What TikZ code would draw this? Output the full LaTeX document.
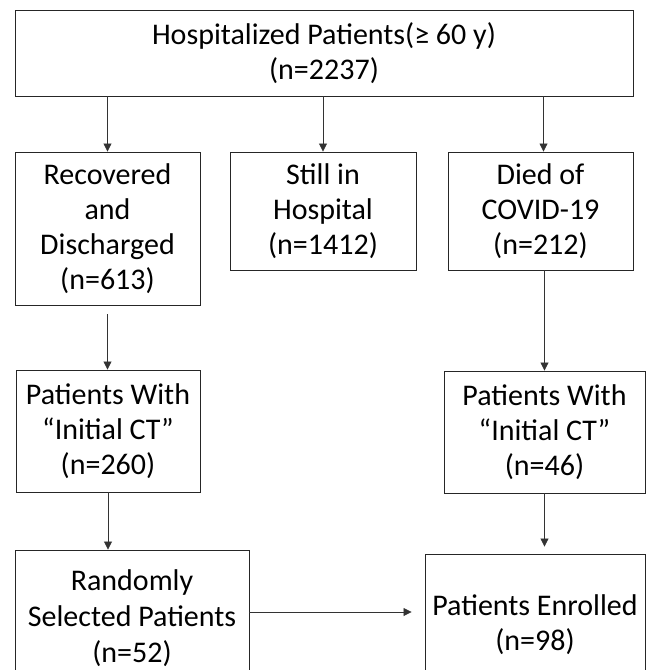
\documentclass[tikz,border=0pt]{standalone}
\usepackage{fontspec}
\setmainfont{Carlito}
\usetikzlibrary{arrows.meta}
\begin{document}
\begin{tikzpicture}[x=1pt,y=-1pt,
    box/.style={draw=black!85,line width=0.9pt,align=center,inner sep=0pt,
      font=\fontsize{30}{35}\selectfont,text=black},
    flow/.style={draw=black!80,line width=0.8pt,-{Triangle[width=8pt,length=8pt]}}]
      \useasboundingbox (0,0) rectangle (650,670);
      \draw
        (324,53) node[box,minimum width=618,minimum height=86] (hosp){Hospitalized Patients(≥ 60 y)\\(n=2237)}
        (107.5,228.5) node[box,minimum width=185,minimum height=153] (recov){Recovered\\and\\Discharged\\(n=613)}
        (323,211) node[box,minimum width=186,minimum height=118] (still){Still in\\Hospital\\(n=1412)}
        (540.5,211) node[box,minimum width=185,minimum height=118] (died){Died of\\COVID-19\\(n=212)}
        (108,431) node[box,minimum width=184,minimum height=122] (ctrecov){Patients With\\“Initial CT”\\(n=260)}
        (544.5,432) node[box,minimum width=201,minimum height=122] (ctdied){Patients With\\“Initial CT”\\(n=46)}
        (132,618) node[box,minimum width=234,minimum height=136,font=\fontsize{30}{36}\selectfont] (rand){Randomly\\Selected Patients\\(n=52)}
        (535,625) node[box,minimum width=220,minimum height=142] (enrol){Patients Enrolled\\(n=98)};
      \begin{scope}[flow]
        \draw (hosp.south -| recov.north) to (recov.north);
        \draw (hosp.south -| still.north) to (still.north);
        \draw ([xshift=3pt]hosp.south -| died.north) to ([xshift=3pt]died.north);
        \draw[shorten <=9pt] (recov.south) to (recov.south |- ctrecov.north);
        \draw (ctdied.north |- died.south) to (ctdied.north);
        \draw (ctrecov.south) to (ctrecov.south |- rand.north);
        \draw[shorten >=7pt] (ctdied.south) to (ctdied.south |- enrol.north);
        \draw[shorten >=13pt] ([yshift=6pt]rand.east) to ([yshift=6pt]rand.east -| enrol.west);
      \end{scope}
    \end{tikzpicture}
\end{document}
